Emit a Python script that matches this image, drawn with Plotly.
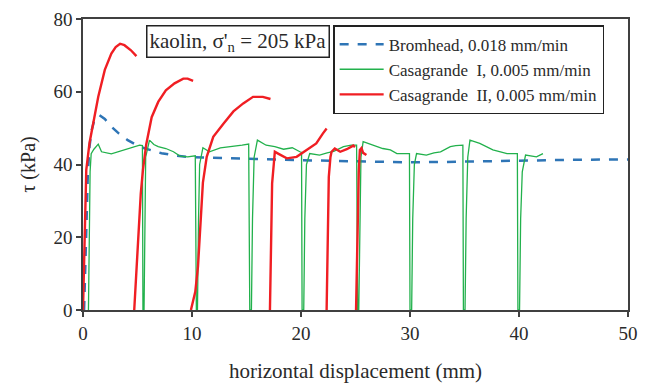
import plotly.graph_objects as go

# Bromhead, 0.018 mm/min
bromhead_x = [0.1, 0.2, 0.3, 0.45, 0.6, 0.8, 1.0, 1.2, 1.5, 2.0, 2.6, 3.3, 4.1, 4.9, 5.7, 6.5, 7.2, 8.4,
              9.6, 11, 13, 15, 17, 20, 23, 26, 30, 33, 36, 40, 45, 50]
bromhead_y = [0, 10, 25, 38, 45, 49.5, 51.8, 53.0, 53.6, 52.5, 50.4, 48.5, 46.7, 45.4, 44.4, 43.6, 43.1, 42.5,
              42.1, 41.9, 41.7, 41.5, 41.4, 41.2, 41.0, 40.8, 40.6, 40.7, 40.9, 41.1, 41.3, 41.4]

# Casagrande I, 0.005 mm/min
casa1_x = [0.5, 0.6, 0.65, 0.75, 1.0, 1.4, 1.7, 2.6, 3.5, 4.4, 5.2, 5.45, 5.5,
           5.6, 5.65, 5.75, 6.1, 6.5, 6.9, 7.6, 8.3, 8.9, 9.6, 10.3, 10.4,
           10.5, 10.6, 10.7, 11.0, 11.6, 12.6, 13.8, 14.6, 15.2, 15.3,
           15.45, 15.55, 15.7, 16.0, 16.8, 17.6, 18.4, 19.2, 19.9, 20.05, 20.1,
           20.25, 20.35, 20.5, 20.8, 21.7, 22.4, 23.0, 23.9, 24.6, 25.1, 25.2,
           25.3, 25.4, 25.5, 25.7, 26.6, 27.5, 28.2, 28.8, 29.5, 29.95, 30.0,
           30.15, 30.25, 30.4, 30.6, 31.5, 32.2, 32.8, 33.7, 34.2, 34.85, 34.9,
           35.05, 35.15, 35.3, 35.5, 36.4, 37.0, 37.6, 38.3, 38.9, 39.85, 39.9,
           40.05, 40.15, 40.3, 40.6, 41.2, 41.6, 42.2]
casa1_y = [0, 20, 38, 43, 44.2, 45.6, 43.5, 42.9, 43.8, 44.6, 45.3, 45.2, 0,
           0, 22, 42, 46.7, 45.5, 44.9, 44.4, 43.5, 42.3, 42.1, 42.4, 0,
           0, 25, 40, 44.6, 43.5, 44.6, 44.9, 45.3, 45.6, 0,
           0, 25, 42, 46.7, 45.3, 44.9, 44.2, 44.6, 43.5, 43.3, 0,
           0, 25, 40, 43.0, 42.6, 43.2, 43.6, 44.9, 45.3, 45.3, 0,
           0, 25, 42, 46.3, 45.3, 44.4, 44.0, 43.0, 43.0, 43.0, 0,
           0, 25, 40, 43.0, 42.6, 43.2, 43.5, 44.9, 45.2, 45.3, 0,
           0, 25, 42, 46.7, 45.8, 44.9, 44.0, 43.5, 43.0, 43.0, 0,
           0, 25, 38, 42.6, 42.3, 42.1, 43.0]

# Casagrande II, 0.005 mm/min (separate loading stages)
casa2_x = [0, 0.1, 0.2, 0.3, 0.6, 0.9, 1.4, 2.0, 2.6, 3.0, 3.4, 3.8, 4.4, 4.9, None,
           4.7, 4.9, 5.05, 5.3, 5.5, 5.8, 6.3, 6.9, 7.6, 8.4, 9.2, 9.6, 10.1, None,
           9.9, 10.3, 10.55, 10.7, 10.85, 11.0, 11.35, 11.95, 12.9, 13.8, 14.7, 15.6, 16.5, 17.2, None,
           17.15, 17.25, 17.35, 17.5, 17.6, 17.9, 18.7, 19.6, 20.5, 21.4, 22.0, 22.35, None,
           22.35, 22.45, 22.55, 22.7, 22.8, 23.1, 23.6, 24.2, 24.8, 24.95, None,
           25.05, 25.15, 25.3, 25.4, 25.55, 25.7, 26.0]
casa2_y = [0, 15, 30, 38.5, 46, 50.4, 58.6, 66, 70.5, 72.3, 73.2, 72.8, 71.4, 69.8, None,
           0, 12, 21, 32, 38.5, 45.5, 53, 57.2, 60.4, 62.3, 63.6, 63.6, 63.0, None,
           0, 5, 12, 21, 30, 35, 42.1, 47.6, 51.3, 54.6, 56.8, 58.6, 58.6, 58.0, None,
           0, 20, 34.8, 40, 43.5, 43.0, 41.7, 42.1, 44.0, 45.8, 48.5, 49.9, None,
           0, 20, 36.6, 42, 43.5, 44.4, 43.5, 44.2, 45.2, 44.8, None,
           0, 20, 38, 44, 44.5, 43.2, 42.6]

x_ticks = [0, 10, 20, 30, 40, 50]
y_ticks = [0, 20, 40, 60, 80]

SERIF = "Liberation Serif, Times New Roman, serif"
TXT = "#2a2a2a"

fig = go.Figure()
fig.add_trace(go.Scatter(x=bromhead_x, y=bromhead_y, mode="lines",
                         name="Bromhead, 0.018 mm/min",
                         line=dict(color="#2E75B6", width=2.5, dash="dash")))
fig.add_trace(go.Scatter(x=casa1_x, y=casa1_y, mode="lines",
                         name="Casagrande  I, 0.005 mm/min",
                         line=dict(color="#22B14C", width=1.3)))
fig.add_trace(go.Scatter(x=casa2_x, y=casa2_y, mode="lines",
                         name="Casagrande  II, 0.005 mm/min", connectgaps=False,
                         line=dict(color="#F01E23", width=2.4)))

axis_common = dict(showgrid=False, zeroline=False, showline=True, mirror=True,
                   linecolor="#404040", linewidth=1.5, ticks="outside", ticklen=5,
                   tickwidth=1.5, tickcolor="#404040", automargin=False,
                   tickfont=dict(family=SERIF, size=19, color=TXT))

# page body adds an 8px offset; margins compensate so the plot box lands at
# screen x 83..628, y 19..310
fig.update_layout(
    width=650, height=383,
    margin=dict(l=75, r=30, t=11, b=81),
    paper_bgcolor="white", plot_bgcolor="white",
    font=dict(family=SERIF, color=TXT),
    xaxis=dict(range=[0, 50], tickvals=x_ticks, **axis_common,
               title=dict(text="horizontal displacement (mm)", font=dict(family=SERIF, size=21),
                          standoff=21)),
    yaxis=dict(range=[0, 80], tickvals=y_ticks, **axis_common,
               title=dict(text="τ (kPa)", font=dict(family=SERIF, size=20), standoff=12)),
    legend=dict(x=0.459, y=0.979, xanchor="left", yanchor="top",
                bgcolor="white", bordercolor="#222222", borderwidth=1.5,
                font=dict(family=SERIF, size=17, color=TXT),
                tracegroupgap=0, itemwidth=44),
    showlegend=True,
)

fig.add_annotation(xref="paper", yref="paper", x=0.1156, y=0.979, xanchor="left", yanchor="top",
                   text="kaolin, σ'<sub>n</sub> = 205 kPa", showarrow=False,
                   font=dict(family=SERIF, size=21, color=TXT),
                   bordercolor="#222222", borderwidth=1.5, borderpad=2, bgcolor="white")

fig.write_html("out.html")
